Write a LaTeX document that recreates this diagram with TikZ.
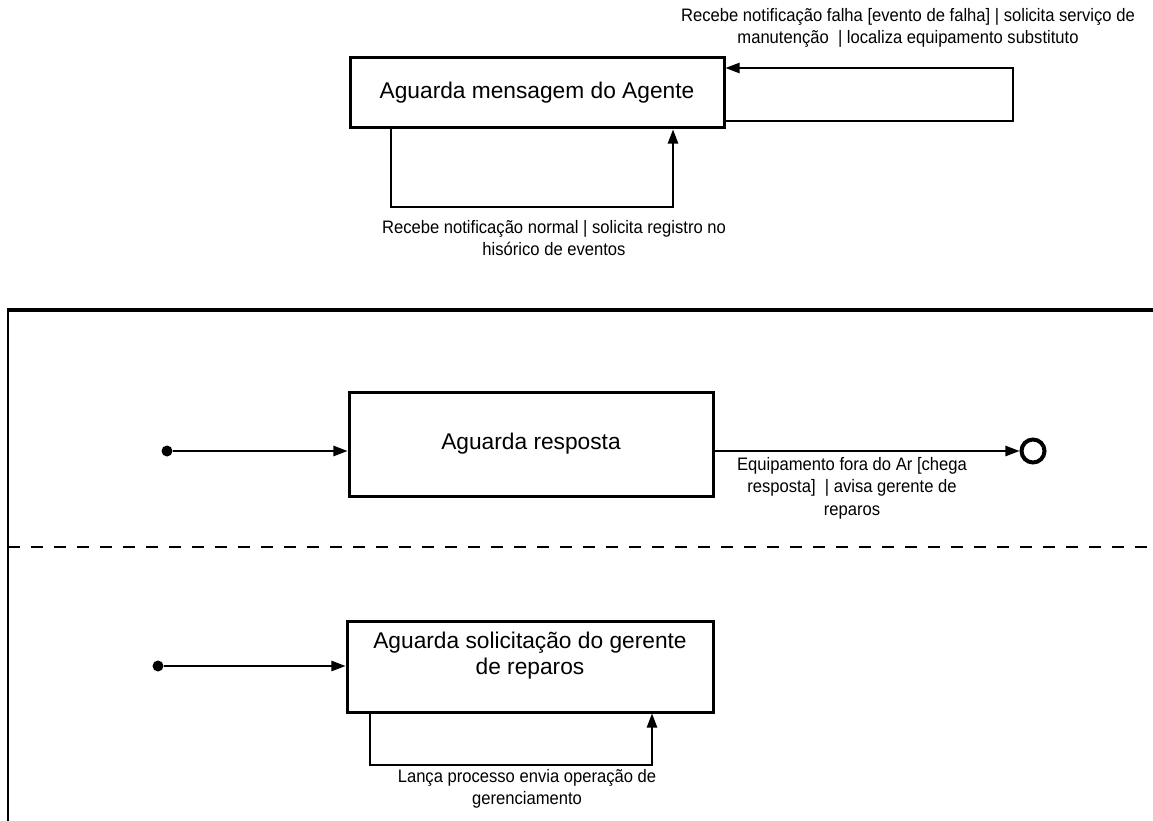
\documentclass[tikz,border=0pt]{standalone}
\usepackage{fontspec}
\setmainfont{Liberation Sans}
\newfontfamily\labelfont[FakeStretch=0.92]{Liberation Sans}
\usetikzlibrary{arrows.meta}
\newlength\pxu
\setlength\pxu{0.03cm}
\begin{document}
\begin{tikzpicture}[x=0.03cm,y=-0.03cm,
  estado/.style={draw,rectangle,line width=3\pxu,inner sep=0pt,align=center,
    font=\fontsize{19.4}{22.2}\selectfont},
  rotulo/.style={inner sep=0pt,align=center,font=\labelfont\fontsize{15.4}{19.2}\selectfont},
  fluxo/.style={line width=1.6\pxu,-{Triangle[length=12pt,width=8.8pt]}},
  raia/.style={line width=2\pxu},
  inicio/.style={circle,fill,inner sep=0pt,minimum size=11\pxu},
  fim/.style={circle,draw,line width=4\pxu,inner sep=0pt,minimum size=23\pxu}]
  \useasboundingbox (0,0) rectangle (1153,821);
  \draw[line width=4\pxu] (8,310) -- (1153,310);
  \draw[raia] (8,308) -- (8,821);
  \draw[raia,dash pattern=on 12\pxu off 11\pxu] (8,547) -- (1153,547);
  \node[estado,minimum width=374\pxu,minimum height=70\pxu] (agente) at (537,93) {Aguarda mensagem do Agente};
  \node[estado,minimum width=364\pxu,minimum height=104\pxu] (resposta) at (531,444) {Aguarda resposta};
  \node[estado,minimum width=366\pxu,minimum height=91\pxu,text depth=27\pxu] (gerente) at (530,666.5) {Aguarda solicitação do gerente\\de reparos};
  \node[inicio] (ini1) at (167,451) {};
  \node[fim] (fim1) at (1033,451) {};
  \node[inicio] (ini2) at (158,666) {};
  \coordinate (normal1) at (391,207);
  \coordinate (normal2) at (673,207);
  \coordinate (falha1) at (1013,121);
  \coordinate (falha2) at (1013,68);
  \coordinate (lanca1) at (370,765);
  \coordinate (lanca2) at (652,765);
  \draw[fluxo] (agente.south -| normal1) -- (normal1) -- (normal2) -- (agente.south -| normal2);
  \draw[fluxo] (agente.east |- falha1) -- (falha1) -- (falha2) -- (agente.east |- falha2);
  \draw[fluxo] (ini1) -- (resposta.west |- ini1);
  \draw[fluxo] (resposta.east |- fim1) -- (fim1);
  \draw[fluxo] (ini2) -- (gerente.west |- ini2);
  \draw[fluxo] (gerente.south -| lanca1) -- (lanca1) -- (lanca2) -- (gerente.south -| lanca2);
  \node[rotulo] (falhatxt) at (908,28) {Recebe notificação falha [evento de falha] | solicita serviço de\\manutenção~ | localiza equipamento substituto};
  \node[rotulo] (normaltxt) at (554,238) {Recebe notificação normal | solicita registro no\\hisórico de eventos};
  \node[rotulo] (respostatxt) at (852,488) {Equipamento fora do Ar [chega\\resposta]~ | avisa gerente de\\reparos};
  \node[rotulo] (lancatxt) at (527,789) {Lança processo envia operação de\\gerenciamento};
\end{tikzpicture}
\end{document}
